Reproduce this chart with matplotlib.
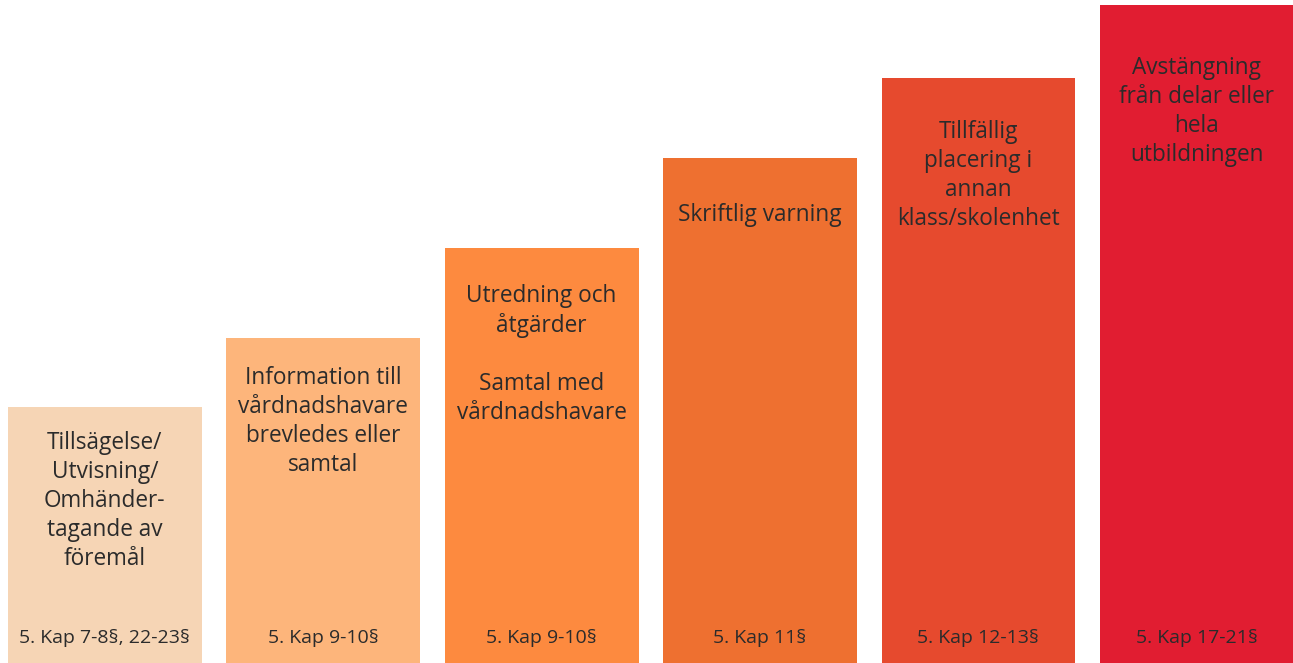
import matplotlib.pyplot as plt

labels = [
    "Tillsägelse/\nUtvisning/\nOmhänder-\ntagande av\nföremål",
    "Information till\nvårdnadshavare\nbrevledes eller\nsamtal",
    "Utredning och\nåtgärder\n\nSamtal med\nvårdnadshavare",
    "Skriftlig varning",
    "Tillfällig\nplacering i\nannan\nklass/skolenhet",
    "Avstängning\nfrån delar eller\nhela\nutbildningen",
]
refs = ["5. Kap 7-8§, 22-23§", "5. Kap 9-10§", "5. Kap 9-10§",
        "5. Kap 11§", "5. Kap 12-13§", "5. Kap 17-21§"]
heights = [256, 325, 415, 505, 585, 658]

colors = ["#F6D5B5", "#FDB57B", "#FD8A3F", "#EE7030", "#E64A2E", "#E11D31"]
text_offset = [24, 28, 36, 45, 42, 51]

plt.rcParams['font.family'] = ['Open Sans', 'DejaVu Sans']

fig = plt.figure(figsize=(12.93, 6.63), dpi=100)
ax = fig.add_axes([0, 0, 1, 1])
x = list(range(len(heights)))
ax.bar(x, heights, width=0.8875, color=colors)

for i, (h, lab, ref) in enumerate(zip(heights, labels, refs)):
    ax.text(i, h - text_offset[i], lab, ha='center', va='top',
            fontsize=16.3, color='#2b2b2b', linespacing=1.28)
    ax.text(i, 25, ref, ha='center', va='center', fontsize=14, color='#2b2b2b')

ax.set_xlim(-0.48, 5.44)
ax.set_ylim(0, 663)
ax.axis('off')

fig.savefig("out.png", dpi=100)
